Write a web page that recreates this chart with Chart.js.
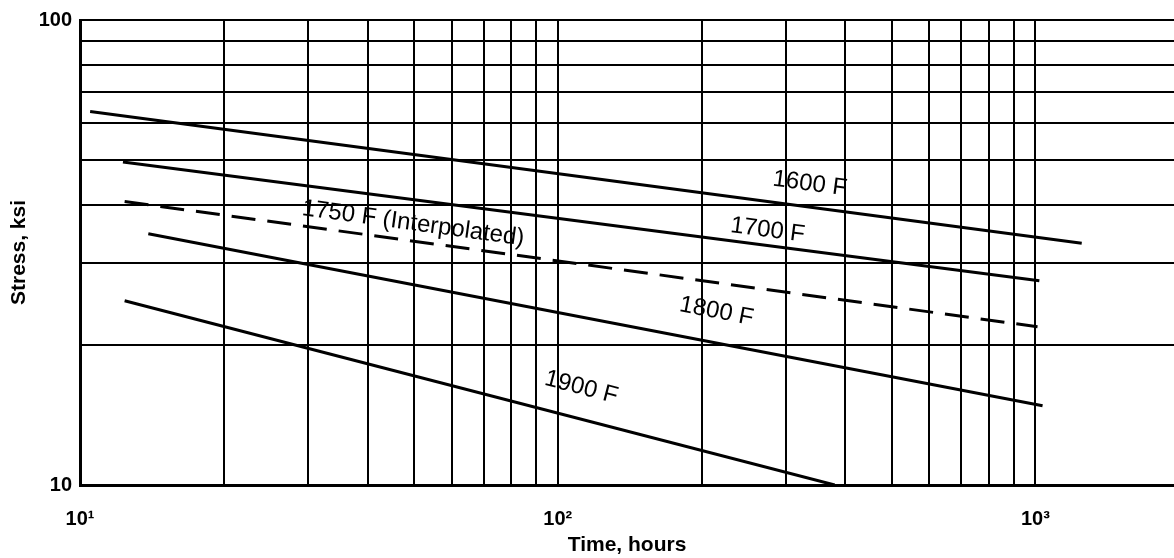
<!DOCTYPE html>
<html>
<head>
<meta charset="utf-8">
<script src="https://cdn.jsdelivr.net/npm/chart.js@4/dist/chart.umd.min.js"></script>
<style>
  html, body { margin: 0; padding: 0; background: #fff; }
  #wrap { width: 1174px; height: 558px; position: relative; }
</style>
</head>
<body>
<div id="wrap"><canvas id="rupture-chart"></canvas></div>
<script>
// ========== DATA ========== //
const tickHours = [10, 20, 30, 40, 50, 60, 70, 80, 90, 100, 200, 300, 400, 500, 600, 700, 800, 900, 1000];
const tickStress = [10, 20, 30, 40, 50, 60, 70, 80, 90, 100];
const labelledHours = { 10: "10\u00b9", 100: "10\u00b2", 1000: "10\u00b3" };
const labelledStress = { 10: "10", 100: "100" };

const hours1600 = [10.5, 1250];
const stress1600 = [63.6, 33.1];
const hours1700 = [12.3, 1019];
const stress1700 = [49.5, 27.5];
const hours1750 = [12.4, 1010];
const stress1750 = [40.7, 21.9];
const hours1800 = [13.9, 1035];
const stress1800 = [34.7, 14.8];
const hours1900 = [12.4, 380];
const stress1900 = [24.9, 10];

const curveNames = ["1600 F", "1700 F", "1750 F (Interpolated)", "1800 F", "1900 F"];
const labelHours = [337, 275, 49.8, 215, 112];
const labelStress = [44.4, 35.3, 36.5, 23.6, 16.2];

const FONT = "'Liberation Sans', Arial, sans-serif";

// ========== HELPERS ========== //
function toPoints(xs, ys) {
  return xs.map((x, i) => ({ x, y: ys[i] }));
}

function makeCurve(name, xs, ys, dashed) {
  return {
    label: name,
    data: toPoints(xs, ys),
    showLine: true,
    borderColor: "#000",
    borderWidth: 3,
    borderDash: dashed ? [24, 12] : [],
    pointRadius: 0,
    tension: 0,
    fill: false
  };
}

// draws curve names along each line
const curveLabels = {
  id: "curveLabels",
  afterDatasetsDraw(chart) {
    const { ctx, scales: { x, y } } = chart;
    ctx.save();
    ctx.fillStyle = "#000";
    ctx.textAlign = "center";
    ctx.textBaseline = "middle";
    ctx.font = "24px " + FONT;
    chart.data.datasets.forEach((ds, i) => {
      const p0 = ds.data[0], p1 = ds.data[ds.data.length - 1];
      const angle = Math.atan2(y.getPixelForValue(p1.y) - y.getPixelForValue(p0.y),
                               x.getPixelForValue(p1.x) - x.getPixelForValue(p0.x));
      ctx.save();
      ctx.translate(x.getPixelForValue(labelHours[i]), y.getPixelForValue(labelStress[i]));
      ctx.rotate(angle);
      ctx.fillText(curveNames[i], 0, 0);
      ctx.restore();
    });
    ctx.restore();
  }
};

// ========== CHART ========== //
function createChart() {
  const ctx = document.getElementById("rupture-chart").getContext("2d");
  return new Chart(ctx, {
    type: "scatter",
    data: {
      datasets: [
        makeCurve(curveNames[0], hours1600, stress1600, false),
        makeCurve(curveNames[1], hours1700, stress1700, false),
        makeCurve(curveNames[2], hours1750, stress1750, true),
        makeCurve(curveNames[3], hours1800, stress1800, false),
        makeCurve(curveNames[4], hours1900, stress1900, false)
      ]
    },
    options: {
      responsive: true,
      maintainAspectRatio: false,
      animation: false,
      layout: { padding: { top: 18, right: 0, left: 0, bottom: 0 } },
      plugins: { legend: { display: false }, tooltip: { enabled: false } },
      scales: {
        x: {
          type: "logarithmic",
          min: 10,
          max: 1950,
          afterBuildTicks: s => { s.ticks = tickHours.map(v => ({ value: v })); },
          afterFit: s => { s.height = 73; },
          grid: { color: "#000", lineWidth: 2, drawTicks: false },
          border: { color: "#000", width: 3 },
          ticks: {
            autoSkip: false,
            maxRotation: 0,
            padding: 22,
            color: "#000",
            font: { family: FONT, size: 20, weight: "bold" },
            callback: v => labelledHours[v] || ""
          },
          title: {
            display: true,
            text: "Time, hours",
            color: "#000",
            padding: { top: 0, bottom: 0 },
            font: { family: FONT, size: 21, weight: "bold" }
          }
        },
        y: {
          type: "logarithmic",
          min: 10,
          max: 100,
          afterBuildTicks: s => { s.ticks = tickStress.map(v => ({ value: v })); },
          afterFit: s => { s.width = 80; },
          grid: { color: "#000", lineWidth: 2, drawTicks: false },
          border: { color: "#000", width: 3 },
          ticks: {
            autoSkip: false,
            padding: 8,
            color: "#000",
            font: { family: FONT, size: 20, weight: "bold" },
            callback: v => labelledStress[v] || ""
          },
          title: {
            display: true,
            text: "Stress, ksi",
            color: "#000",
            padding: { top: 7, bottom: 0 },
            font: { family: FONT, size: 21, weight: "bold" }
          }
        }
      }
    },
    plugins: [curveLabels]
  });
}

createChart();
</script>
</body>
</html>
